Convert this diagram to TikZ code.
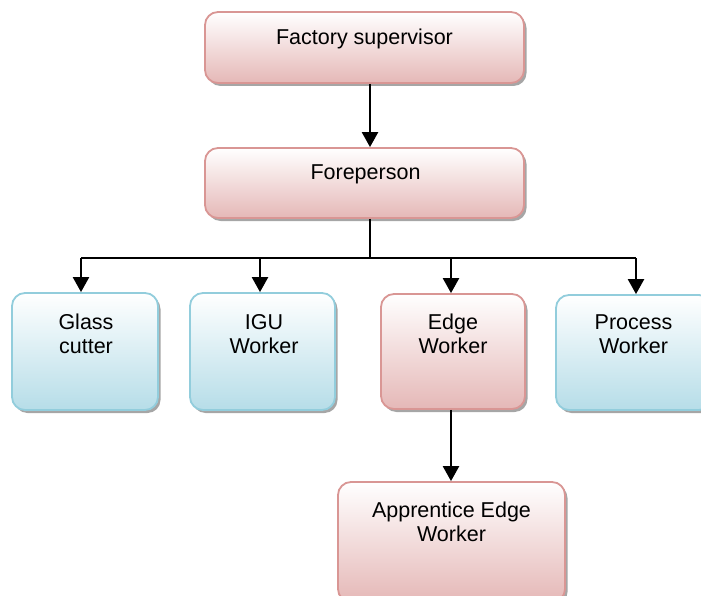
\documentclass[tikz,border=0pt]{standalone}
\usepackage{fontspec}
\setmainfont{Liberation Sans}
\usetikzlibrary{shadows,arrows.meta}
\definecolor{pinkbot}{HTML}{E5B8B7}
\definecolor{pinkborder}{HTML}{D99694}
\definecolor{bluebot}{HTML}{B6DDE8}
\definecolor{blueborder}{HTML}{92CDDC}
\begin{document}
\begin{tikzpicture}[x=1pt,y=-1pt,
  box/.style={draw, line width=1.8pt, rounded corners=13pt, inner sep=0pt,
    drop shadow={shadow xshift=2.5pt,shadow yshift=-3pt,fill=black,opacity=0.35}},
  pinkbox/.style={box, draw=pinkborder, top color=white, bottom color=pinkbot},
  bluebox/.style={box, draw=blueborder, top color=white, bottom color=bluebot},
  lbl/.style={font=\fontsize{21.5}{24.5}\selectfont, align=center, anchor=base, inner sep=0pt},
  arr/.style={line width=2.4pt, -{Triangle[width=16pt,length=15pt]}},
  thinline/.style={line width=1.5pt}]
\useasboundingbox (0,0) rectangle (701,596);
\clip (0,0) rectangle (701,596);
% boxes
\node[pinkbox, minimum width=319pt, minimum height=71pt] (fs) at (364.5,47.5) {};
\node[pinkbox, minimum width=319pt, minimum height=70pt] (fp) at (364.5,183) {};
\node[bluebox, minimum width=146pt, minimum height=117pt] (gc) at (85,351.5) {};
\node[bluebox, minimum width=145pt, minimum height=117pt] (igu) at (262.5,351.5) {};
\node[pinkbox, minimum width=144pt, minimum height=115pt] (ew) at (453,351.5) {};
\node[bluebox, minimum width=156pt, minimum height=115pt] (pw) at (634,352.5) {};
\node[pinkbox, minimum width=227pt, minimum height=120pt] (aew) at (451.5,542) {};
% texts (base anchor = baseline of the last line)
\node[lbl] (fs-t) at (364.5,45) {Factory supervisor};
\node[lbl] (fp-t) at (365.5,180) {Foreperson};
\node[lbl] (gc-t) at (86,353.5) {Glass\\cutter};
\node[lbl] (igu-t) at (264,353.5) {IGU\\Worker};
\node[lbl] (ew-t) at (453,353.5) {Edge\\Worker};
\node[lbl] (pw-t) at (633.5,353.5) {Process\\Worker};
\node[lbl] (aew-t) at (451.5,541.5) {Apprentice Edge\\Worker};
% connectors
\draw[arr] ([xshift=5.5pt]fs.south) -- ([xshift=5.5pt]fp.north);
\draw[thinline] ([xshift=5.5pt]fp.south) -- ++(0,40) coordinate (busm);
\coordinate (b1) at (81,258);
\coordinate (b2) at (260,258);
\coordinate (b3) at (451,258);
\coordinate (b4) at (636,258);
\draw[thinline] (b1) -- (b4);
\draw[arr] (b1) -- (b1 |- gc.north);
\draw[arr] (b2) -- (b2 |- igu.north);
\draw[arr] (b3) -- (b3 |- ew.north);
\draw[arr] (b4) -- (b4 |- pw.north);
\draw[arr] ([xshift=-2pt]ew.south) -- ([xshift=-2pt]ew.south |- aew.north);
\end{tikzpicture}
\end{document}
